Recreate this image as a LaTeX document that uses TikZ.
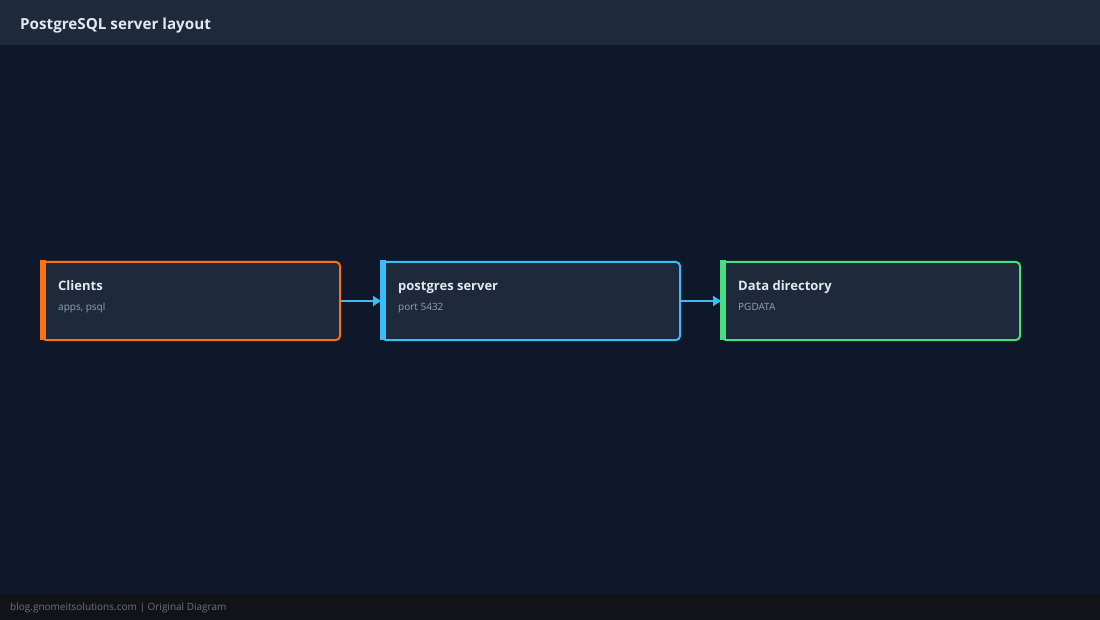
\documentclass[tikz,border=0pt]{standalone}
\usepackage{fontspec}
\setmainfont{Open Sans}
\usetikzlibrary{arrows.meta}
\definecolor{bgmain}{HTML}{0F172A}
\definecolor{bghead}{HTML}{1E293B}
\definecolor{bgfoot}{HTML}{111318}
\definecolor{boxfill}{HTML}{1E293B}
\definecolor{titlec}{HTML}{E2E8F0}
\definecolor{subc}{HTML}{94A3B8}
\definecolor{footc}{HTML}{6B7280}
\definecolor{corange}{HTML}{F97316}
\definecolor{cblue}{HTML}{38BDF8}
\definecolor{cgreen}{HTML}{4ADE80}
\tikzset{
  card/.style={draw=#1, fill=boxfill, line width=2pt, rounded corners=4pt,
    minimum width=298pt, minimum height=78pt, inner sep=0pt, anchor=north west},
  cardtitle/.style={anchor=base west, inner sep=0pt, text=titlec, font=\fontsize{13}{15}\selectfont\bfseries},
  cardsub/.style={anchor=base west, inner sep=0pt, text=subc, font=\fontsize{10}{12}\selectfont},
  flow/.style={draw=cblue, line width=2pt, -{Triangle[length=8pt,width=10pt]}}
}
\begin{document}
\begin{tikzpicture}[x=1pt,y=-1pt]
\useasboundingbox (0,0) rectangle (1100,620);
\fill[bgmain] (0,0) rectangle (1100,620);
\fill[bghead] (0,0) rectangle (1100,45);
\fill[bgfoot] (0,594) rectangle (1100,620);
\node[anchor=base west, inner sep=0pt, text=titlec, font=\fontsize{15.2}{18}\selectfont\bfseries] (title) at (20,30) {PostgreSQL server layout};
\node[anchor=base west, inner sep=0pt, text=footc, font=\fontsize{10}{12}\selectfont] (foot) at (10,610) {blog.gnomeitsolutions.com | Original Diagram};

\node[card=corange] (clients) at (41,261) {};
\fill[corange] (40,260) rectangle (46,340);
\node[cardtitle] (clientsT) at (58,290.5) {Clients};
\node[cardsub] (clientsS) at (58,310) {apps, psql};

\node[card=cblue] (server) at (381,261) {};
\fill[cblue] (380,260) rectangle (386,340);
\node[cardtitle] (serverT) at (398,290.5) {postgres server};
\node[cardsub] (serverS) at (398,310) {port 5432};

\node[card=cgreen] (data) at (721,261) {};
\fill[cgreen] (720,260) rectangle (726,340);
\node[cardtitle] (dataT) at (738,290.5) {Data directory};
\node[cardsub] (dataS) at (738,310) {PGDATA};

\draw[flow] (clients.east) -- (server.west);
\draw[flow] (server.east) -- (data.west);
\end{tikzpicture}
\end{document}
